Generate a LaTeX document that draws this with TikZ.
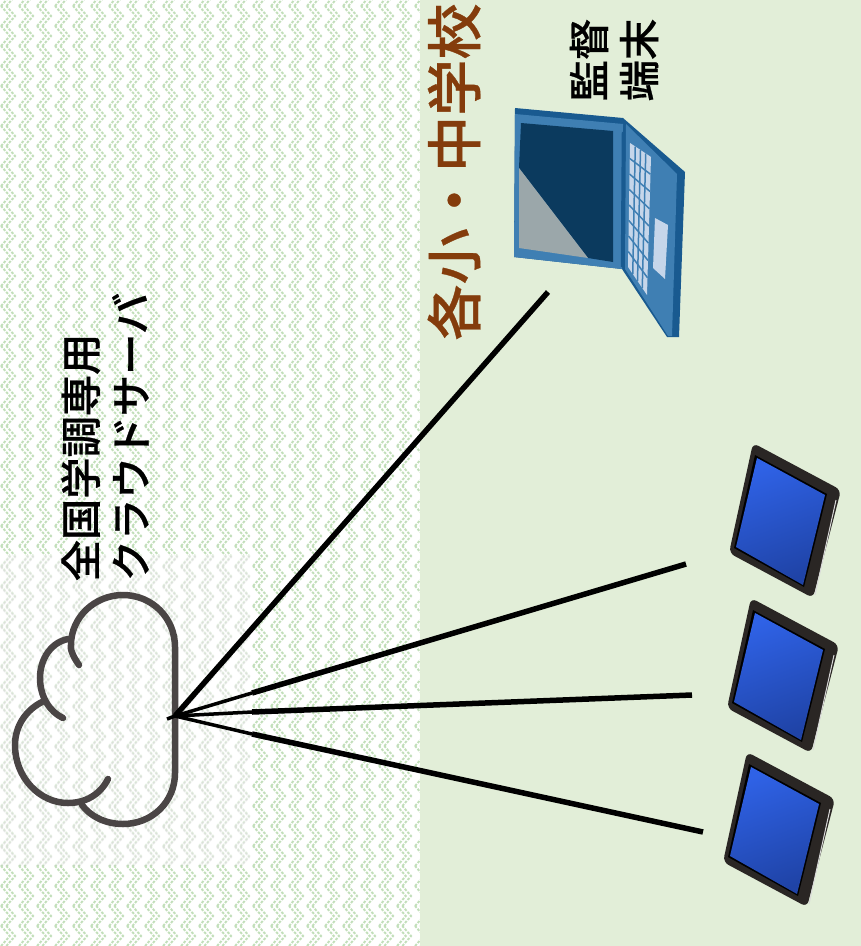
\documentclass[tikz,border=0pt]{standalone}
\usepackage{fontspec}
\usepackage{xcolor}
\usetikzlibrary{calc}
\usetikzlibrary{patterns}
\newfontfamily\jpfont[FakeBold=0.6]{Noto Sans CJK JP Medium}

\definecolor{schoolgreen}{HTML}{E2EED8}
\definecolor{weavegreen}{HTML}{C2DFBA}
\definecolor{cloudgray}{HTML}{4A4545}
\definecolor{schoolbrown}{HTML}{843C0C}
\definecolor{pcframe}{HTML}{3F7FB3}
\definecolor{pcedge}{HTML}{195A90}
\definecolor{pcscreen}{HTML}{0B3A5E}
\definecolor{pcgray}{HTML}{9BA7AA}
\definecolor{pckeys}{HTML}{C6D6EA}
\definecolor{padframe}{HTML}{2A2624}
\definecolor{padblue}{HTML}{2F62E6}
\definecolor{paddark}{HTML}{1F43A6}

\pgfdeclarepatternformonly{weave}{\pgfqpoint{0pt}{0pt}}{\pgfqpoint{10.24pt}{11.38pt}}{\pgfqpoint{10.24pt}{11.38pt}}{
  \pgfsetlinewidth{1.1pt}
  \pgfsetdash{{1.5pt}{0.8pt}}{0pt}
  \pgfpathmoveto{\pgfqpoint{0.6pt}{0pt}}
  \pgfpathlineto{\pgfqpoint{5.6pt}{5.69pt}}
  \pgfpathlineto{\pgfqpoint{0.6pt}{11.38pt}}
  \pgfusepath{stroke}
  \pgfpathmoveto{\pgfqpoint{3.6pt}{0pt}}
  \pgfpathlineto{\pgfqpoint{8.6pt}{5.69pt}}
  \pgfpathlineto{\pgfqpoint{3.6pt}{11.38pt}}
  \pgfusepath{stroke}
}

\tikzset{
  cloudline/.style={draw=cloudgray, line width=0.13cm, line cap=round},
  wire/.style={black, line width=0.11cm},
  thinwire/.style={black, line width=0.07cm},
  labeltext/.style={rotate=90, font=\jpfont\fontsize{23.5}{28.5}\selectfont, align=left, inner sep=0pt},
}

\begin{document}
\begin{tikzpicture}[x=0.02cm,y=-0.02cm]
\useasboundingbox (0,0) rectangle (861,946);

% Draw the background
\fill[white] (0,0) rectangle (420,946);
\fill[pattern=weave, pattern color=weavegreen] (0,0) rectangle (420,946);
\fill[schoolgreen] (420,0) rectangle (861,946);
\fill[white, opacity=0.6] (0,555) rectangle (250,865);
\fill[pattern=weave, pattern color=gray!45, opacity=0.35] (0,555) rectangle (250,865);

% Draw the cloud
\draw[cloudline] (79,665) .. controls (72,655) and (70,648) .. (71,645) .. controls (71,617) and (95,595) .. (123,595)
  .. controls (152,595) and (175,618) .. (175,647) -- (175,773) .. controls (175,802) and (152,824) .. (123,824)
  .. controls (105,824) and (90,816) .. (82,805);
\draw[cloudline] (68,639) .. controls (52,642) and (40,658) .. (40,678) .. controls (40,697) and (50,712) .. (63,718);
\draw[cloudline] (42,702) .. controls (26,710) and (15,726) .. (15,745) .. controls (15,778) and (40,803) .. (68,803)
  .. controls (85,803) and (100,795) .. (108,779);

% Draw the laptop
\fill[pcedge] (515,108) -- (623,118) -- (685,172) -- (679,337) -- (667,337) -- (622,269) -- (514,257) -- cycle;
\fill[pcframe] (515,114) -- (623,124) -- (622,269) -- (514,257) -- cycle;
\fill[pcframe] (626,124) -- (677,174) -- (672,336) -- (668,336) -- (625,269) -- cycle;
\fill[pcscreen] (521,123) -- (613,131) -- (613,262) -- (588,258) -- (519,168) -- cycle;
\fill[pcgray] (519,168) -- (588,258) -- (519,248) -- cycle;
\draw[pcedge, line width=0.05cm] (623,132) -- (622,267);
\fill[pckeys] (630,143) -- (651,157) -- (647,295) -- (628,267) -- cycle;
\coordinate (keyA) at (630,143);
\coordinate (keyB) at (651,157);
\coordinate (keyC) at (647,295);
\coordinate (keyD) at (628,267);
\foreach \i in {1,...,7}
{
  \draw[pcframe, line width=0.03cm] ($(keyA)!\i/8!(keyD)$) -- ($(keyB)!\i/8!(keyC)$);
}
\foreach \j in {1,2,3}
{
  \draw[pcframe, line width=0.03cm] ($(keyA)!\j/4!(keyB)$) -- ($(keyD)!\j/4!(keyC)$);
}
\fill[pckeys] (655,218) -- (668,225) -- (665,279) -- (653,268) -- cycle;

% Draw the tablets
\foreach \dx/\dy in {0/0,-2/155,-6/309}
{
  \begin{scope}[shift={(\dx,\dy)}]
    \fill[padframe, rounded corners=0.12cm] (753,443) -- (841,490) -- (813,598) -- (729,553) -- cycle;
    \draw[white!85!black, line width=0.02cm] (836,500) -- (815,595);
    \fill[black] (755,455) -- (827,494) -- (804,587) -- (734,548) -- cycle;
    \shade[left color=padblue, right color=paddark, shading angle=20] (757,458) -- (825,495) -- (803,585) -- (736,547) -- cycle;
  \end{scope}
}

% Draw the wires
\coordinate (hub) at (175,716);
\coordinate (stub) at (167,719);
\coordinate (pcEnd) at (548,292);
\coordinate (kinkA) at (252,693);
\coordinate (padA) at (686,564);
\coordinate (kinkB) at (252,712);
\coordinate (padB) at (692,695);
\coordinate (kinkC) at (252,734);
\coordinate (padC) at (703,832);
\draw[thinwire] (stub) -- (hub);
\draw[wire] (hub) -- (pcEnd);
\draw[thinwire] (hub) -- (kinkA);
\draw[wire] (kinkA) -- (padA);
\draw[thinwire] (hub) -- (kinkB);
\draw[wire] (kinkB) -- (padB);
\draw[thinwire] (hub) -- (kinkC);
\draw[wire] (kinkC) -- (padC);

% Draw the labels
\node[labeltext] (serverlabel) at (105,437) {全国学調専用\\クラウドサーバ};
\node[labeltext] (pclabel) at (614,60) {監督\\端末};
\node[rotate=90, font=\jpfont\fontsize{32}{38}\selectfont, text=schoolbrown, inner sep=0pt] (schoollabel) at (454,172) {各小・中学校};

\end{tikzpicture}
\end{document}
